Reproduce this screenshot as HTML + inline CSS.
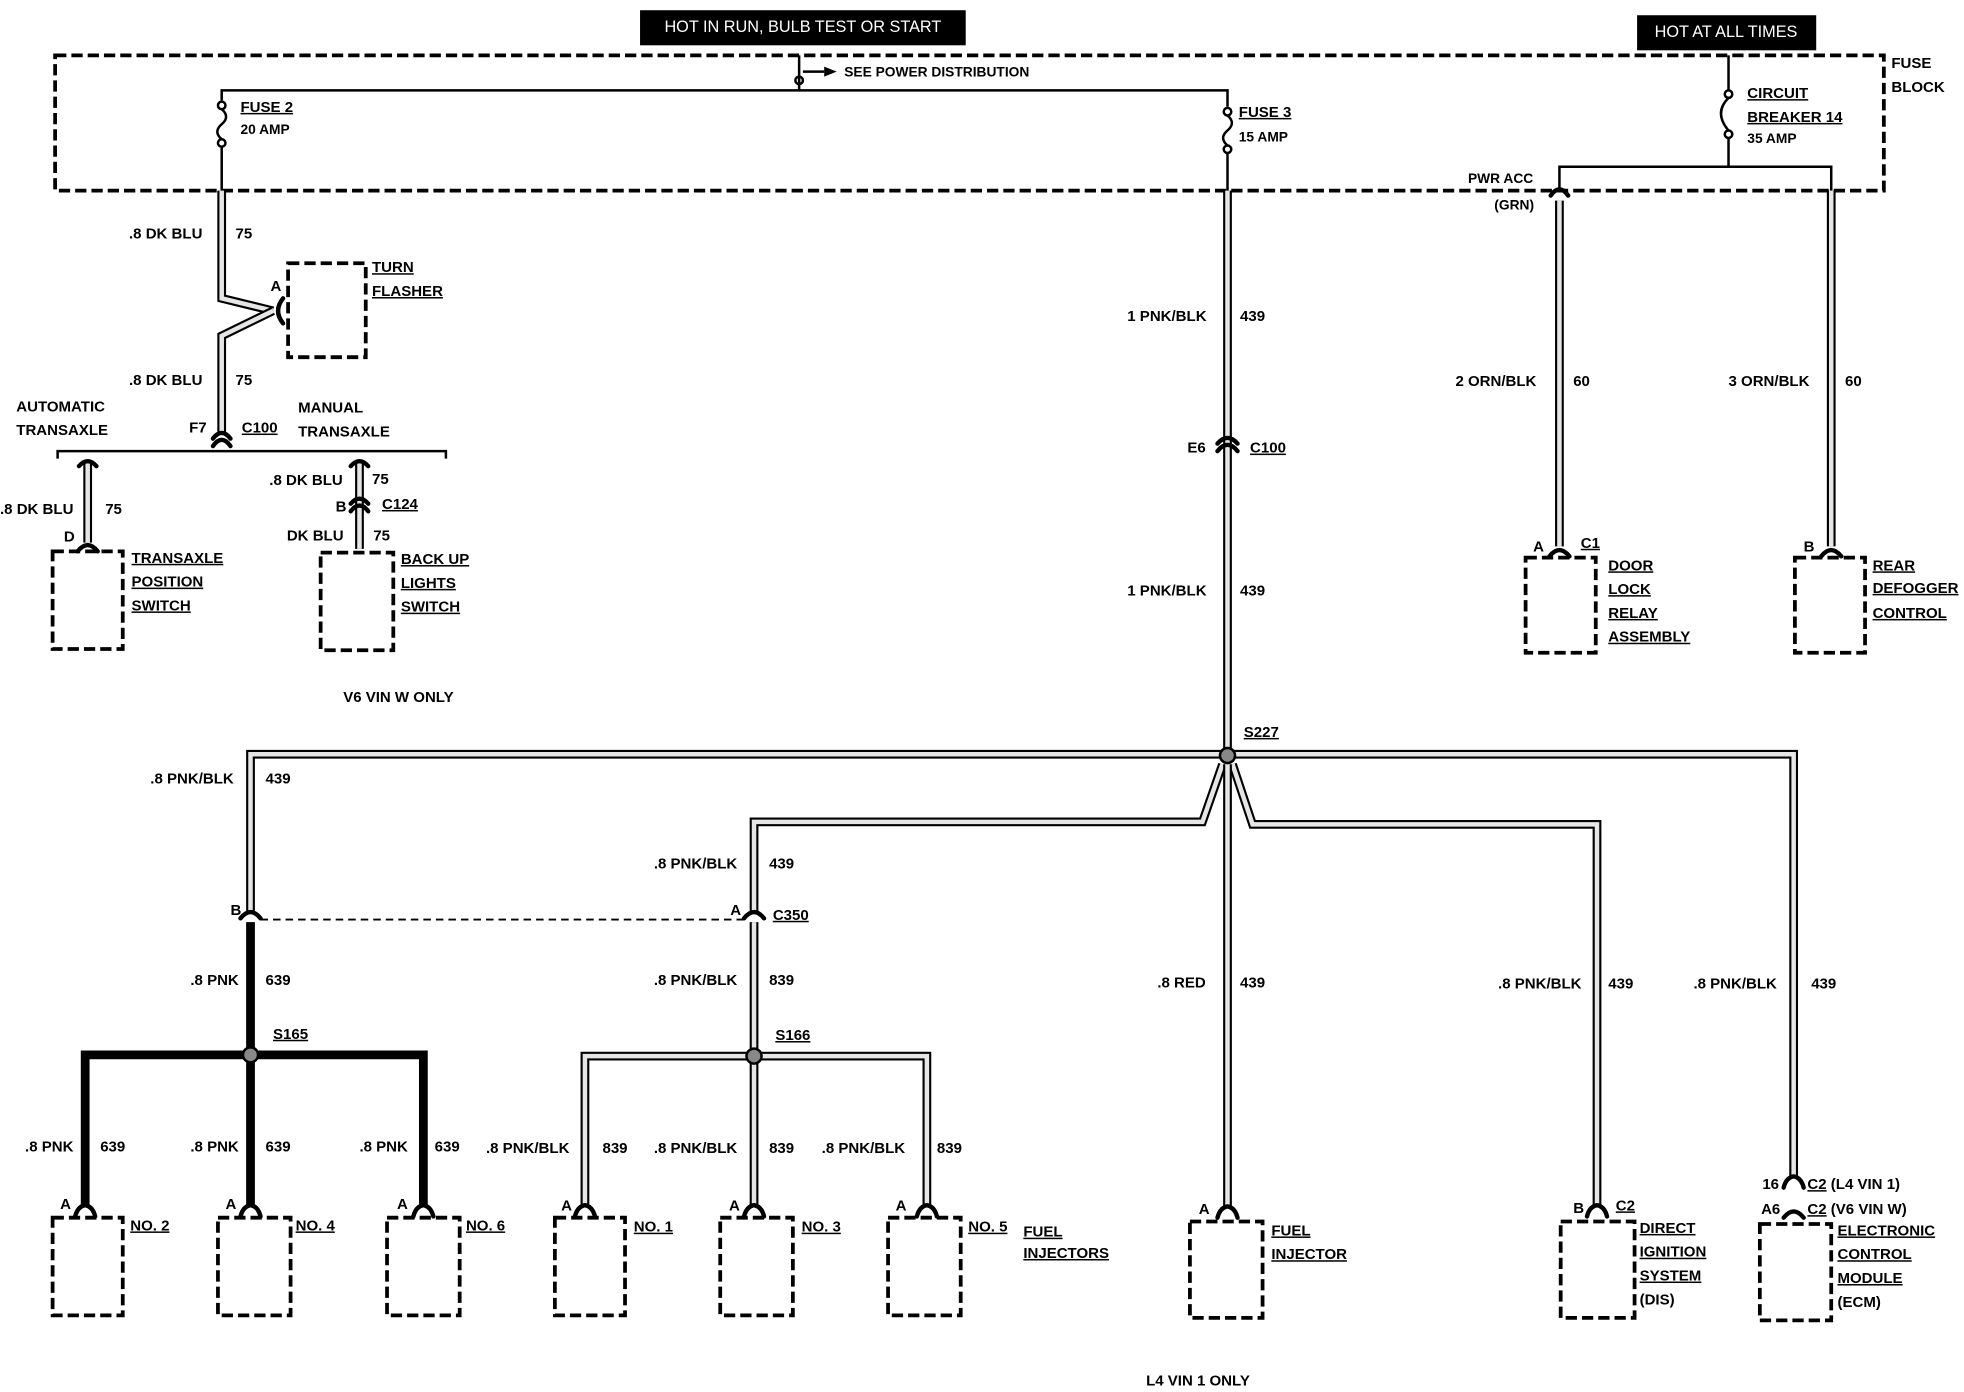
<!DOCTYPE html>
<html><head><meta charset="utf-8"><style>
html,body{margin:0;padding:0;background:#fff}
svg{display:block}
text{font-family:"Liberation Sans",sans-serif;font-weight:bold;font-size:12px;fill:#000;dominant-baseline:middle}
.u{text-decoration:underline}
.o{fill:none;stroke:#000;stroke-width:7;stroke-linejoin:miter}
.i{fill:none;stroke:#e6e6e6;stroke-width:3.6;stroke-linejoin:miter}
.k{fill:none;stroke:#000;stroke-width:7}
.d{fill:none;stroke:#000;stroke-width:3;stroke-dasharray:9 4}
.l{fill:none;stroke:#000;stroke-width:2}
.c{fill:none;stroke:#000;stroke-width:3.5;stroke-linecap:round}
</style></head><body>
<svg width="1964" height="1392" viewBox="0 0 1568 1111" xmlns="http://www.w3.org/2000/svg">
<defs>
<path id="w75a" d="M177 152 V238 L218 248"/>
<path id="w75b" d="M218 248 L177 268 V345"/>
<path id="w75c" d="M70 368 V433"/>
<path id="w75d" d="M287 368 V438"/>
<path id="w439" d="M980 152 V602"/>
<path id="w60a" d="M1245 160 V436"/>
<path id="w60b" d="M1462 152 V436"/>
<path id="s1" d="M980 602 H200 V727"/>
<path id="s2" d="M980 602 H1432 V940"/>
<path id="s3" d="M976 610 L960 656 H602 V727"/>
<path id="s4" d="M980 610 V964"/>
<path id="s5" d="M984 610 L1000 658 H1275 V962"/>
<path id="s6" d="M602 736 V843"/>
<path id="s7" d="M467 963 V843 H740 V963"/>
<path id="s8" d="M602 843 V963"/>
</defs>
<!-- top labels -->
<rect x="511" y="8" width="260" height="28" fill="#000"/>
<text x="641" y="22" text-anchor="middle" style="fill:#fff;font-weight:normal;font-size:13px">HOT IN RUN, BULB TEST OR START</text>
<rect x="1307" y="12" width="143" height="28" fill="#000"/>
<text x="1378" y="26" text-anchor="middle" style="fill:#fff;font-weight:normal;font-size:13px">HOT AT ALL TIMES</text>
<!-- fuse block -->
<rect x="44" y="44" width="1460" height="108" class="d"/>
<text x="1510" y="51">FUSE</text><text x="1510" y="70">BLOCK</text>
<path class="l" d="M177 80 V72 H980 V85"/>
<path class="l" d="M638 72 V44"/>
<circle cx="638" cy="64" r="3" fill="none" stroke="#000" stroke-width="2"/>
<path class="l" d="M641 57 H658"/><path d="M658 53 L668 57 L658 61Z"/>
<text x="674" y="58" style="font-size:11px">SEE POWER DISTRIBUTION</text>
<!-- fuse 2 -->
<g class="l"><circle cx="177" cy="84" r="3"/><path d="M177 87 Q184 93 177 99 Q170 105 177 111"/><circle cx="177" cy="114" r="3"/><path d="M177 117 V152"/></g>
<text x="192" y="86" class="u">FUSE 2</text><text x="192" y="104" style="font-size:11px">20 AMP</text>
<!-- fuse 3 -->
<g class="l"><circle cx="980" cy="89" r="3"/><path d="M980 92 Q987 98 980 104 Q973 110 980 116"/><circle cx="980" cy="119" r="3"/><path d="M980 122 V152"/></g>
<text x="989" y="90" class="u">FUSE 3</text><text x="989" y="110" style="font-size:11px">15 AMP</text>
<!-- circuit breaker -->
<g class="l"><path d="M1380 44 V72"/><circle cx="1380" cy="75" r="3"/><path d="M1380 78 Q1368 90 1380 104"/><circle cx="1380" cy="107" r="3"/><path d="M1380 110 V133 M1245 150 V133 H1462 V152"/></g>
<text x="1395" y="75" class="u">CIRCUIT</text><text x="1395" y="94" class="u">BREAKER 14</text><text x="1395" y="111" style="font-size:11px">35 AMP</text>
<text x="1172" y="143" style="font-size:11px">PWR ACC</text><text x="1193" y="164" style="font-size:11px">(GRN)</text>
<path class="c" d="M1238 156 Q1245 146 1252 156"/>
<!-- wires -->
<g><use href="#w75a" class="o"/><use href="#w75a" class="i"/><use href="#w75b" class="o"/><use href="#w75b" class="i"/>
<use href="#w75c" class="o"/><use href="#w75c" class="i"/><use href="#w75d" class="o"/><use href="#w75d" class="i"/>
<use href="#w439" class="o"/><use href="#w439" class="i"/><use href="#w60a" class="o"/><use href="#w60a" class="i"/>
<use href="#w60b" class="o"/><use href="#w60b" class="i"/>
<use href="#s1" class="o"/><use href="#s1" class="i"/><use href="#s2" class="o"/><use href="#s2" class="i"/>
<use href="#s3" class="o"/><use href="#s3" class="i"/><use href="#s5" class="o"/><use href="#s5" class="i"/>
<use href="#s4" class="o"/><use href="#s4" class="i"/>
<use href="#s6" class="o"/><use href="#s6" class="i"/><use href="#s7" class="o"/><use href="#s7" class="i"/>
<use href="#s8" class="o"/><use href="#s8" class="i"/></g>
<!-- black 639 -->
<path class="k" d="M200 736 V842 M68 963 V842 H338 V963 M200 842 V963"/>
<!-- splices -->
<circle cx="980" cy="603" r="6" fill="#888" stroke="#000" stroke-width="2"/>
<circle cx="200" cy="842" r="6" fill="#888" stroke="#000" stroke-width="2"/>
<circle cx="602" cy="843" r="6" fill="#888" stroke="#000" stroke-width="2"/>
<text x="993" y="585" class="u">S227</text><text x="218" y="826" class="u">S165</text><text x="619" y="827" class="u">S166</text>
<!-- turn flasher -->
<rect x="230" y="210" width="62" height="75" class="d"/>
<path class="c" d="M226 238 Q218 248 226 258"/>
<text x="216" y="229">A</text>
<text x="297" y="214" class="u">TURN</text><text x="297" y="233" class="u">FLASHER</text>
<text x="103" y="187">.8 DK BLU</text><text x="188" y="187">75</text>
<text x="103" y="304">.8 DK BLU</text><text x="188" y="304">75</text>
<!-- C100 F7 -->
<path class="c" d="M170 356 Q177 346 184 356"/><path class="c" d="M170 350 Q177 341 184 350"/>
<text x="151" y="342">F7</text><text x="193" y="342" class="u">C100</text>
<path class="l" d="M46 366 V360 H356 V366"/>
<text x="13" y="325">AUTOMATIC</text><text x="13" y="344">TRANSAXLE</text>
<text x="238" y="326">MANUAL</text><text x="238" y="345">TRANSAXLE</text>
<path class="c" d="M63 372 Q70 364 77 372"/><path class="c" d="M280 372 Q287 364 294 372"/>
<text x="0" y="407">.8 DK BLU</text><text x="84" y="407">75</text>
<path class="c" d="M62 440 Q70 430 78 440"/><text x="51" y="429">D</text>
<rect x="42" y="440" width="56" height="78" class="d"/>
<text x="105" y="446" class="u">TRANSAXLE</text><text x="105" y="465" class="u">POSITION</text><text x="105" y="484" class="u">SWITCH</text>
<text x="215" y="384">.8 DK BLU</text><text x="297" y="383">75</text>
<path class="c" d="M280 408 Q287 399 294 408"/><path class="c" d="M280 402 Q287 394 294 402"/>
<text x="268" y="405">B</text><text x="305" y="403" class="u">C124</text>
<text x="229" y="428">DK BLU</text><text x="298" y="428">75</text>
<rect x="256" y="441" width="58" height="78" class="d"/>
<text x="320" y="447" class="u">BACK UP</text><text x="320" y="466" class="u">LIGHTS</text><text x="320" y="485" class="u">SWITCH</text>
<text x="274" y="557">V6 VIN W ONLY</text>
<!-- 439 main -->
<text x="900" y="253">1 PNK/BLK</text><text x="990" y="253">439</text>
<path class="c" d="M972 360 Q980 350 988 360"/><path class="c" d="M972 354 Q980 345 988 354"/>
<text x="948" y="358">E6</text><text x="998" y="358" class="u">C100</text>
<text x="900" y="472">1 PNK/BLK</text><text x="990" y="472">439</text>
<!-- 60 wires -->
<text x="1162" y="305">2 ORN/BLK</text><text x="1256" y="305">60</text>
<text x="1380" y="305">3 ORN/BLK</text><text x="1473" y="305">60</text>
<path class="c" d="M1237 444 Q1245 434 1253 444"/><text x="1224" y="437">A</text><text x="1262" y="434" class="u">C1</text>
<rect x="1218" y="445" width="56" height="76" class="d"/>
<text x="1284" y="452" class="u">DOOR</text><text x="1284" y="471" class="u">LOCK</text><text x="1284" y="490" class="u">RELAY</text><text x="1284" y="509" class="u">ASSEMBLY</text>
<path class="c" d="M1454 444 Q1462 434 1470 444"/><text x="1440" y="437">B</text>
<rect x="1433" y="445" width="56" height="76" class="d"/>
<text x="1495" y="452" class="u">REAR</text><text x="1495" y="470" class="u">DEFOGGER</text><text x="1495" y="490" class="u">CONTROL</text>
<!-- lower labels -->
<text x="120" y="622">.8 PNK/BLK</text><text x="212" y="622">439</text>
<text x="522" y="690">.8 PNK/BLK</text><text x="614" y="690">439</text>
<path class="c" d="M192 733 Q200 723 208 733"/><path class="c" d="M594 733 Q602 723 610 733"/>
<text x="184" y="727">B</text><text x="583" y="727">A</text><text x="617" y="731" class="u">C350</text>
<path d="M208 734 H594" fill="none" stroke="#000" stroke-width="1.5" stroke-dasharray="6 4"/>
<text x="152" y="783">.8 PNK</text><text x="212" y="783">639</text>
<text x="522" y="783">.8 PNK/BLK</text><text x="614" y="783">839</text>
<text x="20" y="916">.8 PNK</text><text x="80" y="916">639</text>
<text x="152" y="916">.8 PNK</text><text x="212" y="916">639</text>
<text x="287" y="916">.8 PNK</text><text x="347" y="916">639</text>
<text x="388" y="917">.8 PNK/BLK</text><text x="481" y="917">839</text>
<text x="522" y="917">.8 PNK/BLK</text><text x="614" y="917">839</text>
<text x="656" y="917">.8 PNK/BLK</text><text x="748" y="917">839</text>
<text x="924" y="785">.8 RED</text><text x="990" y="785">439</text>
<text x="1196" y="786">.8 PNK/BLK</text><text x="1284" y="786">439</text>
<text x="1352" y="786">.8 PNK/BLK</text><text x="1446" y="786">439</text>
<!-- connectors bottom -->
<g class="c">
<path d="M60 971 Q62 963 68 962 Q74 963 76 971"/><path d="M192 971 Q194 963 200 962 Q206 963 208 971"/><path d="M330 971 Q332 963 338 962 Q344 963 346 971"/>
<path d="M459 971 Q461 963 467 962 Q473 963 475 971"/><path d="M594 971 Q596 963 602 962 Q608 963 610 971"/><path d="M732 971 Q734 963 740 962 Q746 963 748 971"/>
<path d="M972 972 Q974 964 980 963 Q986 964 988 972"/><path d="M1267 971 Q1269 963 1275 962 Q1281 963 1283 971"/><path d="M1424 948 Q1426 940 1432 939 Q1438 940 1440 948"/><path d="M1424 972 Q1432 962 1440 972"/></g>
<text x="48" y="962">A</text><text x="180" y="962">A</text><text x="317" y="962">A</text>
<text x="448" y="963">A</text><text x="582" y="963">A</text><text x="715" y="963">A</text>
<text x="957" y="966">A</text><text x="1256" y="965">B</text><text x="1290" y="963" class="u">C2</text>
<text x="1407" y="946">16</text><text x="1443" y="946"><tspan class="u">C2</tspan> (L4 VIN 1)</text>
<text x="1406" y="966">A6</text><text x="1443" y="966"><tspan class="u">C2</tspan> (V6 VIN W)</text>
<g class="d">
<rect x="42" y="972" width="56" height="78"/><rect x="174" y="972" width="58" height="78"/><rect x="309" y="972" width="58" height="78"/>
<rect x="443" y="972" width="56" height="78"/><rect x="575" y="972" width="58" height="78"/><rect x="709" y="972" width="58" height="78"/>
<rect x="950" y="975" width="58" height="77"/><rect x="1246" y="975" width="59" height="77"/><rect x="1405" y="977" width="57" height="77"/></g>
<text x="104" y="979" class="u">NO. 2</text><text x="236" y="979" class="u">NO. 4</text><text x="372" y="979" class="u">NO. 6</text>
<text x="506" y="980" class="u">NO. 1</text><text x="640" y="980" class="u">NO. 3</text><text x="773" y="980" class="u">NO. 5</text>
<text x="817" y="984" class="u">FUEL</text><text x="817" y="1001" class="u">INJECTORS</text>
<text x="1015" y="983" class="u">FUEL</text><text x="1015" y="1002" class="u">INJECTOR</text>
<text x="1309" y="981" class="u">DIRECT</text><text x="1309" y="1000" class="u">IGNITION</text><text x="1309" y="1019" class="u">SYSTEM</text><text x="1309" y="1038">(DIS)</text>
<text x="1467" y="983" class="u">ELECTRONIC</text><text x="1467" y="1002" class="u">CONTROL</text><text x="1467" y="1021" class="u">MODULE</text><text x="1467" y="1040">(ECM)</text>
<text x="915" y="1103">L4 VIN 1 ONLY</text>
</svg>
</body></html>
